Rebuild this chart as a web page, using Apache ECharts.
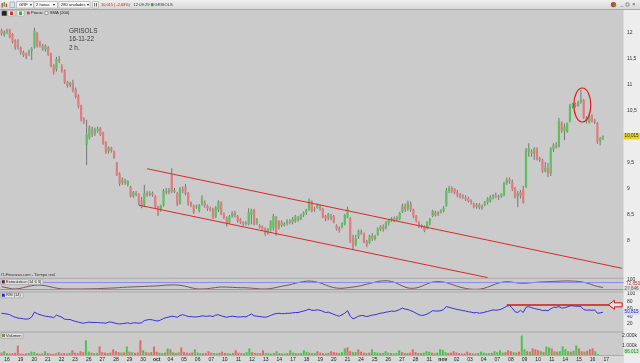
<!DOCTYPE html>
<html><head><meta charset="utf-8">
<script src="https://cdn.jsdelivr.net/npm/echarts/dist/echarts.min.js"></script>
<style>html,body{margin:0;padding:0;background:#cbcbcb}#c{width:640px;height:363px}</style>
</head><body><div id="c"></div>
<script>
// ---------- DATA ----------
const dayLabels = ['16','19','20','21','22','23','26','27','28','29','30','oct','04','05','06','07','10','11','12','13','14','17','18','19','20','21','24','25','26','27','28','31','nov','02','03','04','07','08','09','10','11','14','15','16','17'];
const preSlots = 2;          // last two 2h bars of 15 sep
const barsPerDay = 5;
// [open, close, low, high]
const candles = [
[12.05,11.98,11.95,12.08],[11.96,12.02,11.93,12.05],[12.02,12.04,11.98,12.08],[12.06,11.92,11.90,12.08],[11.98,11.83,11.80,12.00],
[11.86,11.72,11.68,11.88],[11.76,11.74,11.68,11.88],[11.72,11.62,11.58,11.74],[11.63,11.57,11.54,11.66],[11.60,11.55,11.50,11.62],
[11.60,11.66,11.56,11.68],[11.66,11.70,11.48,11.73],[11.72,12.04,11.70,12.10],[12.00,11.75,11.72,12.02],[11.82,11.76,11.72,11.85],
[11.76,11.70,11.66,11.79],[11.68,11.76,11.64,11.78],[11.72,11.58,11.56,11.75],[11.60,11.36,11.34,11.62],[11.38,11.24,11.20,11.40],
[11.30,11.50,11.26,11.54],[11.50,11.46,11.42,11.56],[11.36,11.26,11.24,11.40],[11.28,11.05,11.02,11.30],[11.06,10.98,10.95,11.08],
[10.99,11.04,10.96,11.06],[11.04,10.90,10.86,11.10],[10.92,10.77,10.74,10.95],[10.80,10.58,10.55,10.82],[10.60,10.34,10.30,10.62],
[10.36,10.29,10.25,10.38],[9.85,10.04,9.46,10.33],[9.98,10.19,9.95,10.22],[10.15,10.05,10.00,10.20],[10.06,10.14,10.02,10.18],
[10.12,10.16,10.08,10.20],[10.17,10.04,10.02,10.19],[10.08,9.88,9.85,10.10],[9.90,9.71,9.68,9.92],[9.72,9.80,9.68,9.82],
[9.79,9.74,9.70,9.81],[9.72,9.60,9.58,9.74],[9.50,9.27,9.25,9.52],[9.30,9.10,9.06,9.32],[9.12,9.18,9.08,9.22],
[9.16,9.12,9.08,9.20],[9.08,9.15,9.05,9.17],[9.04,8.86,8.84,9.06],[8.86,8.94,8.83,8.96],[8.93,8.89,8.86,8.96],
[8.90,8.75,8.69,8.92],[8.78,8.66,8.63,8.85],[8.70,8.92,8.66,9.08],[8.92,8.88,8.85,8.96],[8.89,8.93,8.86,8.96],
[8.92,8.88,8.85,8.95],[8.86,8.65,8.62,8.88],[8.66,8.52,8.48,8.68],[8.60,8.68,8.56,8.70],[8.68,8.97,8.66,9.00],
[8.96,8.93,8.90,9.02],[8.94,8.98,8.90,9.02],[9.27,8.95,8.92,9.40],[8.95,8.98,8.92,9.02],[8.92,8.70,8.67,8.94],
[8.72,9.00,8.70,9.04],[9.00,8.96,8.92,9.05],[9.04,8.90,8.88,9.10],[8.92,8.70,8.68,8.94],[8.74,8.68,8.65,8.76],
[8.68,8.55,8.52,8.70],[8.66,8.68,8.62,8.70],[8.58,8.69,8.55,8.71],[8.72,8.82,8.68,8.88],[8.74,8.68,8.64,8.78],
[8.68,8.62,8.58,8.70],[8.63,8.60,8.57,8.66],[8.62,8.45,8.42,8.64],[8.46,8.65,8.44,8.67],[8.60,8.76,8.56,8.78],
[8.74,8.52,8.50,8.76],[8.52,8.45,8.42,8.55],[8.45,8.32,8.28,8.47],[8.36,8.48,8.33,8.50],[8.48,8.54,8.45,8.57],
[8.54,8.48,8.45,8.58],[8.48,8.38,8.35,8.50],[8.42,8.36,8.33,8.44],[8.36,8.32,8.29,8.38],[8.33,8.36,8.30,8.38],
[8.32,8.55,8.30,8.63],[8.50,8.60,8.32,8.62],[8.60,8.32,8.30,8.62],[8.35,8.42,8.31,8.44],[8.30,8.26,8.24,8.32],
[8.28,8.22,8.20,8.30],[8.24,8.14,8.10,8.26],[8.16,8.22,8.12,8.25],[8.22,8.38,8.18,8.40],[8.24,8.48,8.20,8.52],
[8.46,8.14,8.10,8.48],[8.26,8.38,8.22,8.40],[8.36,8.30,8.27,8.40],[8.30,8.34,8.28,8.36],[8.34,8.38,8.30,8.42],
[8.38,8.36,8.32,8.42],[8.36,8.42,8.32,8.46],[8.38,8.48,8.35,8.50],[8.45,8.40,8.37,8.48],[8.42,8.50,8.40,8.52],
[8.50,8.55,8.46,8.57],[8.55,8.60,8.50,8.62],[8.60,8.78,8.58,8.82],[8.76,8.58,8.55,8.78],[8.60,8.62,8.56,8.66],
[8.64,8.68,8.62,8.72],[8.66,8.62,8.58,8.70],[8.62,8.46,8.44,8.64],[8.48,8.42,8.38,8.50],[8.44,8.52,8.40,8.54],
[8.48,8.44,8.40,8.52],[8.48,8.36,8.34,8.50],[8.30,8.22,8.20,8.32],[8.24,8.20,8.16,8.28],[8.26,8.34,8.24,8.36],
[8.32,8.50,8.30,8.52],[8.46,8.62,8.44,8.66],[8.44,7.98,7.96,8.46],[8.05,7.88,7.83,8.12],[7.92,8.05,7.90,8.12],
[8.08,8.20,8.04,8.22],[8.18,8.14,8.12,8.22],[8.14,7.98,7.96,8.16],[8.00,7.92,7.88,8.02],[7.96,8.10,7.94,8.12],
[8.10,8.04,8.00,8.15],[8.04,8.10,8.01,8.12],[8.12,8.24,8.10,8.26],[8.22,8.28,8.19,8.30],[8.28,8.22,8.18,8.32],
[8.25,8.36,8.22,8.38],[8.34,8.40,8.30,8.42],[8.40,8.44,8.37,8.46],[8.44,8.40,8.36,8.47],[8.40,8.46,8.38,8.48],
[8.42,8.54,8.40,8.56],[8.56,8.68,8.54,8.72],[8.68,8.60,8.56,8.72],[8.62,8.74,8.58,8.78],[8.72,8.60,8.56,8.76],
[8.60,8.47,8.44,8.62],[8.48,8.38,8.36,8.50],[8.36,8.28,8.25,8.38],[8.28,8.30,8.24,8.32],[8.28,8.20,8.17,8.30],
[8.24,8.36,8.22,8.38],[8.34,8.42,8.30,8.44],[8.48,8.58,8.46,8.60],[8.55,8.50,8.47,8.58],[8.51,8.55,8.48,8.57],
[8.56,8.58,8.53,8.61],[8.58,8.64,8.55,8.67],[8.68,8.98,8.66,9.02],[8.96,9.02,8.92,9.06],[9.02,8.96,8.92,9.05],
[9.00,8.93,8.90,9.02],[8.94,8.88,8.84,8.98],[8.90,8.85,8.82,8.92],[8.86,8.84,8.81,8.90],[8.84,8.80,8.77,8.88],
[8.82,8.76,8.74,8.85],[8.78,8.74,8.70,8.80],[8.72,8.66,8.63,8.74],[8.66,8.70,8.62,8.73],[8.70,8.64,8.61,8.73],
[8.64,8.68,8.60,8.70],[8.70,8.74,8.67,8.77],[8.74,8.82,8.70,8.84],[8.76,8.85,8.74,8.88],[8.84,8.88,8.80,8.90],
[8.88,8.84,8.82,8.93],[8.84,8.86,8.79,8.89],[8.86,8.90,8.83,8.92],[8.88,9.12,8.86,9.14],[9.12,9.18,9.08,9.22],
[9.18,9.14,9.10,9.22],[9.14,9.00,8.96,9.18],[9.02,8.84,8.82,9.04],[8.86,8.92,8.65,8.96],[8.94,8.86,8.82,8.98],
[8.98,8.74,8.72,9.06],[9.04,9.75,9.02,9.79],[9.72,9.79,9.62,9.88],[9.72,9.68,9.62,9.76],[9.68,9.78,9.56,9.80],
[9.78,9.58,9.55,9.80],[9.60,9.56,9.52,9.62],[9.56,9.33,9.31,9.58],[9.34,9.40,9.32,9.52],[9.40,9.30,9.23,9.50],
[9.30,9.78,9.25,9.80],[9.76,9.85,9.71,9.88],[9.84,9.80,9.78,9.90],[9.82,10.30,9.80,10.37],[10.27,10.12,10.08,10.30],
[10.12,10.20,9.94,10.26],[10.10,10.26,10.08,10.28],[10.30,10.60,10.28,10.64],[10.58,10.63,10.55,10.66],[10.63,10.60,10.57,10.66],
[10.60,10.67,10.58,10.70],[10.68,10.72,10.64,10.90],[10.71,10.37,10.35,10.73],[10.36,10.30,10.26,10.40],[10.28,10.38,10.26,10.42],
[10.40,10.30,10.28,10.44],[10.32,10.28,10.25,10.35],[10.27,9.90,9.87,10.29],[9.92,9.97,9.84,10.00],[9.97,10.015,9.94,10.03]
];
// volume in thousands of shares
const volume = [250,400,
200,150,180,220,1000, 150,120,160,200,350, 300,180,140,160,400, 200,150,130,180,300, 180,200,150,220,500,
250,200,400,300,1550, 350,250,200,220,900, 300,250,200,250,600, 400,300,250,280,900, 350,280,220,260,1550,
500,300,250,300,900, 350,250,200,260,700, 600,300,220,280,800, 300,250,200,260,600, 250,200,180,220,400,
250,200,180,220,350, 220,180,160,200,500, 250,200,180,300,700, 300,220,180,200,500, 220,200,160,200,400,
200,180,160,200,500, 250,200,180,220,500, 350,250,200,220,400, 250,200,180,220,400, 300,250,220,300,700,
800,400,300,300,600, 350,250,200,250,600, 300,250,200,220,400, 250,200,180,220,500, 300,220,200,250,600,
300,220,200,250,400, 350,250,200,250,600, 550,300,220,250,400, 250,200,160,180,350, 220,180,160,200,350,
250,200,180,220,400, 300,500,250,300,500, 400,300,250,350,2050, 600,400,350,700,600, 500,400,300,900,800,
700,400,350,400,900, 600,400,350,450,1000, 700,400,350,450,600, 700,400,86];
const rsi = [48,47,46,44,40,37,35,34,33,32,33,38,51,47,44,42,40,39,38,36,43,40,37,32,31,31,28,26,24,22,21,23,24,23,23,23,22,22,21,24,
24,22,20,19,20,21,22,20,22,22,21,22,28,30,31,30,28,27,30,34,36,38,40,39,37,42,44,42,39,39,38,38,39,41,40,40,41,39,43,44,
41,39,37,39,40,39,38,38,39,38,42,46,41,40,39,38,37,39,42,45,47,48,47,47,48,48,49,50,50,52,54,56,59,56,56,57,56,53,50,51,
48,45,42,40,44,48,55,40,33,36,40,42,41,39,41,43,44,46,48,49,51,52,54,53,55,58,62,59,58,55,52,48,44,42,43,46,50,55,54,54,
55,58,66,64,62,60,58,57,55,54,52,51,49,50,48,49,51,53,55,57,56,57,59,63,67,69,62,52,50,56,50,64,66,63,61,59,58,55,56,55,
60,64,64,66,62,63,65,68,68,67,67,66,58,56,57,56,57,48,49,50.8];
const stoch = [40,35,30,25,21,20,22,26,32,38,44,48,52,54,54,52,48,44,38,32,28,24,21,20,20,20,20,20,20,20,20,21,21,22,22,23,24,25,26,27,
28,29,30,32,34,35,36,37,38,39,40,41,42,43,44,45,46,47,49,51,53,54,55,55,54,52,48,43,37,31,26,22,20,20,21,23,26,29,32,35,
37,37,36,35,34,33,32,31,31,30,29,27,25,23,21,20,20,21,24,28,33,38,43,48,52,57,63,69,75,80,84,87,88,87,84,78,72,64,55,46,
38,32,28,26,26,28,31,34,37,40,44,49,55,61,67,73,79,84,88,90,91,89,85,78,68,57,46,36,29,26,26,29,35,44,54,64,73,80,83,84,
83,80,74,67,59,51,43,36,30,25,21,18,17,17,18,22,28,36,45,54,63,71,77,81,83,82,79,75,72,70,69,70,72,74,76,78,80,81,82,83,
84,85,86,87,88,89,89,89,88,87,85,82,78,72,65,57,49,42,37,33];
const priceTicks = [8, 8.5, 9, 9.5, 10, 10.5, 11, 11.5, 12];
// annotations in data coordinates [slot, value]
const trendUpper = [[53, 9.39], [226, 7.475]];
const trendLower = [[50, 8.69], [177, 7.296]];
const ellipseCenter = [211.5, 10.615];
const rsiLevel = [[184, 70.7], [226, 70.7]];
const title = ['GRISOLS', '16-11-22', '2 h.'];

// ---------- BUILD ----------
const slots = [], slotLabel = [];
for (let j = 0; j < preSlots; j++) { slots.push('15-' + j); slotLabel.push(''); }
dayLabels.forEach((d, k) => { for (let j = 0; j < barsPerDay; j++) { slots.push(k + '-' + d + '-' + j); slotLabel.push(j === 0 ? d : ''); } });

const candleData = candles.map((c, i) => [i, c[0], c[1], c[2], c[3]]);
const UP = '#5cc05c', DOWN = '#e27c7c';
const volData = volume.map((v, i) => ({ value: v, itemStyle: { color: candles[i][1] >= candles[i][0] ? '#4cc24c' : '#e06a6a' } }));

const FONT = 'Liberation Sans';
const GL = 0.135, GW = 623.365;
const chart = echarts.init(document.getElementById('c'), null, { renderer: 'canvas', width: 640, height: 363 });

const xAx = (g) => ({
  type: 'category', gridIndex: g, data: slots, boundaryGap: true,
  axisLine: { show: false }, axisTick: { show: false }, splitLine: { show: false },
  axisLabel: g === 3 ? {
    show: true, interval: (i) => slotLabel[i] !== '', margin: 2.5, fontSize: 5, fontFamily: FONT, color: '#222',
    formatter: (v, i) => { const t = slotLabel[i]; return (t === 'oct' || t === 'nov') ? '{b|' + t + '}' : t; },
    rich: { b: { fontWeight: 'bold', fontSize: 5, fontFamily: FONT, color: '#222' } }
  } : { show: false }
});
const lbl = (fmt) => ({ show: true, fontSize: 5, fontFamily: FONT, color: '#333', margin: 3.5, formatter: fmt });

chart.setOption({
  animation: false,
  backgroundColor: '#cbcbcb',
  grid: [
    { left: GL, width: GW, top: 7, height: 260 },
    { left: GL, width: GW, top: 279.7, height: 11.6 },
    { left: GL, width: GW, top: 294, height: 37 },
    { left: GL, width: GW, top: 335, height: 20 }
  ],
  xAxis: [xAx(0), xAx(1), xAx(2), xAx(3)],
  yAxis: [
    { type: 'value', gridIndex: 0, position: 'right', min: 7.5, max: 12.5, interval: 0.5, axisLine: { show: false }, axisTick: { show: false }, splitLine: { show: false },
      axisLabel: lbl(v => priceTicks.indexOf(v) >= 0 ? String(v).replace('.', ',') : '') },
    { type: 'value', gridIndex: 1, position: 'right', min: 0, max: 100, interval: 20, axisLine: { show: false }, axisTick: { show: false }, splitLine: { show: false },
      axisLabel: lbl(v => v === 100 ? '100' : '') },
    { type: 'value', gridIndex: 2, position: 'right', min: 0, max: 100, interval: 20, axisLine: { show: false }, axisTick: { show: false }, splitLine: { show: false },
      axisLabel: lbl(v => v > 0 ? String(v) : '') },
    { type: 'value', gridIndex: 3, position: 'right', min: 0, max: 2105, interval: 1000, axisLine: { show: false }, axisTick: { show: false }, splitLine: { show: false },
      axisLabel: lbl(v => (v === 1000 || v === 2000) ? (v / 1000) + '.000k' : '') }
  ],
  series: [
    { type: 'custom', xAxisIndex: 0, yAxisIndex: 0, data: candleData, encode: { x: 0, y: [1, 2, 3, 4] },
      renderItem: (params, api) => {
        const i = api.value(0), o = api.value(1), c = api.value(2), l = api.value(3), h = api.value(4);
        const pO = api.coord([i, o]), pC = api.coord([i, c]), pL = api.coord([i, l]), pH = api.coord([i, h]);
        const cx = pO[0];
        const top = Math.min(pO[1], pC[1]), bot = Math.max(pO[1], pC[1]);
        return { type: 'group', children: [
          { type: 'line', shape: { x1: cx, y1: pH[1], x2: cx, y2: pL[1] }, style: { stroke: '#6c6c6c', lineWidth: 0.9 } },
          { type: 'rect', shape: { x: cx - 1.1, y: top, width: 2.2, height: Math.max(bot - top, 0.8) }, style: { fill: c >= o ? UP : DOWN } }
        ] };
      } },
    { type: 'line', xAxisIndex: 1, yAxisIndex: 1, data: stoch, showSymbol: false, lineStyle: { color: '#765263', width: 1 },
      markLine: { silent: true, symbol: 'none', label: { show: false }, lineStyle: { color: '#8c8cf2', type: 'solid', width: 1 }, data: [{ yAxis: 80 }, { yAxis: 20 }] } },
    { type: 'line', xAxisIndex: 2, yAxisIndex: 2, data: rsi, showSymbol: false, lineStyle: { color: '#3030e6', width: 1 },
      markLine: { silent: true, symbol: 'none', label: { show: false }, lineStyle: { color: '#d01818', type: 'solid', width: 1.6 },
        data: [[{ coord: rsiLevel[0] }, { coord: rsiLevel[1] }]] } },
    { type: 'bar', xAxisIndex: 3, yAxisIndex: 3, data: volData, barWidth: 2 }
  ]
});

// ---------- GRAPHICS ----------
const px = (g, pt) => chart.convertToPixel({ gridIndex: g }, pt);
const mid = (g, s, v) => { const a = px(g, [Math.floor(s), v]), b = px(g, [Math.floor(s) + 1, v]); const f = s - Math.floor(s); return [a[0] + (b[0] - a[0]) * f, a[1]]; };
const T = (x, y, text, o = {}) => ({ type: 'text', x, y, silent: true, z: 50, style: Object.assign({ text, fontSize: 5, fontFamily: FONT, fill: '#222', textVerticalAlign: 'middle' }, o) });
const R = (x, y, w, h, fill, stroke, z = 40) => ({ type: 'rect', silent: true, z, shape: { x, y, width: w, height: h }, style: { fill, stroke: stroke || null, lineWidth: stroke ? 0.6 : 0 } });
const L = (x1, y1, x2, y2, stroke, w = 1, z = 30) => ({ type: 'line', silent: true, z, shape: { x1, y1, x2, y2 }, style: { stroke, lineWidth: w } });
const TB = 4.1; // toolbar font size

const g = [];
// right axis strip
g.push(R(623.5, 9.5, 16.5, 354, '#ededed', null, -5));
// date row
g.push(R(0, 355.5, 623.5, 7.5, '#d8d8d8', null, -5));
// panel separators
[278.3, 291.9, 332, 355.5].forEach(y => g.push(L(0, y, 623.5, y, '#a2a2a2', 0.8, 5)));
// toolbar row 1
g.push({ type: 'rect', silent: true, z: 40, shape: { x: 0, y: 0, width: 640, height: 9.5 }, style: { fill: new echarts.graphic.LinearGradient(0, 0, 0, 1, [{ offset: 0, color: '#efefef' }, { offset: 1, color: '#d6d6d6' }]) } });
g.push(L(0, 9.5, 640, 9.5, '#9c9c9c', 0.8, 41));
g.push(R(1.5, 3, 1.4, 4.5, '#d04848'), R(3.6, 2, 1.4, 4.5, '#40b040'), R(5.7, 3.5, 1.4, 3.5, '#d04848'));
g.push(R(10, 2, 4.5, 5.5, '#dde4ee', '#8a98aa'));
g.push(R(16.5, 1.5, 17, 6.5, '#f6f6f6', '#a8a8a8'), T(19, 4.8, 'GRF', { fontSize: TB }), T(29.8, 4.8, '▾', { fontSize: 3.6 }));
g.push(R(34, 1.5, 23.5, 6.5, '#f6f6f6', '#a8a8a8'), T(36, 4.8, '2 horas', { fontSize: TB }), T(53.2, 4.8, '▾', { fontSize: 3.6 }));
g.push(R(59, 1.5, 31, 6.5, '#f6f6f6', '#a8a8a8'), T(61, 4.8, '280 unidades', { fontSize: TB }), T(86.5, 4.8, '▾', { fontSize: 3.6 }));
g.push(R(92.5, 1.5, 6, 6.5, '#f6f6f6', '#a8a8a8'), R(94.3, 3, 0.8, 3.5, '#444'), R(96, 3, 0.8, 3.5, '#444'));
g.push(T(101, 4.8, '10,015 ( -2,63%)', { fill: '#d01010', fontSize: 3.9 }));
g.push(T(133.5, 4.8, '12:09:29', { fill: '#333', fontSize: TB }));
g.push(R(151, 3.2, 2.6, 3, '#20b020'), T(154.5, 4.8, 'GRISOLS', { fill: '#333', fontSize: TB }));
g.push({ type: 'circle', silent: true, z: 42, shape: { cx: 613.5, cy: 4.6, r: 2.6 }, style: { fill: '#d83030' } });
g.push({ type: 'circle', silent: true, z: 43, shape: { cx: 614.5, cy: 5.2, r: 1.6 }, style: { fill: '#30b030' } });
g.push(T(620.5, 4.2, '_', { fill: '#555' }), R(626, 3, 3, 3, null, '#666'), T(632, 4.8, '×', { fill: '#555', fontSize: 6 }));
// toolbar row 2
g.push(R(2, 11, 4.5, 4.5, '#222', '#444'));
g.push(R(8, 10.5, 7, 5.5, '#eeeeee', '#aaaaaa'), R(10, 11.5, 3, 3.5, '#d83030'));
g.push(R(17, 10.5, 7, 5.5, '#eeeeee', '#aaaaaa'), R(19, 11.5, 3, 3.5, '#30b030'));
g.push(R(27, 11.6, 2.6, 2.8, '#d84040'), T(31, 13.1, 'Precio', { fontSize: TB }));
g.push(R(45, 11.5, 3, 3, '#f5f5f5', '#777'), T(49.8, 13.1, 'SMA (200)', { fontSize: TB }));
// title text
g.push(T(69, 31, title[0], { fontSize: 6.4, fill: '#3a3a3a' }), T(69, 39.6, title[1], { fontSize: 6.4, fill: '#3a3a3a' }), T(69, 48.2, title[2], { fontSize: 6.4, fill: '#3a3a3a' }));
// panel labels
g.push(T(1, 275.3, 'IT-Finanzas.com - Tiempo real', { fontSize: 4, fill: '#333' }));
g.push(R(1, 279.2, 42, 5.2, '#e4e4e4', '#9a9a9a'), R(2, 280.3, 2.8, 3, '#222'), R(3.4, 280.3, 1.4, 3, '#c03030'), T(6, 281.9, 'Estocástico (14 6 3)', { fontSize: 4 }));
g.push(R(1, 292.6, 22, 5.2, '#e4e4e4', '#9a9a9a'), R(2, 293.7, 2.8, 3, '#2020e0'), T(6, 295.3, 'RSI (14)', { fontSize: 4 }));
g.push(R(1, 333, 22, 5.2, '#e4e4e4', '#9a9a9a'), R(2, 334.1, 1.4, 3, '#30b030'), R(3.4, 334.1, 1.4, 3, '#d04040'), T(6, 335.7, 'Volumen', { fontSize: 4 }));

// data-anchored annotations
const u0 = px(0, trendUpper[0]), u1 = px(0, trendUpper[1]);
g.push(L(u0[0], u0[1], u1[0], u1[1], '#e02828', 1, 20));
const l0 = px(0, trendLower[0]), l1 = px(0, trendLower[1]);
g.push(L(l0[0], l0[1], l1[0], l1[1], '#e02828', 1, 20));
const ec = mid(0, ellipseCenter[0], ellipseCenter[1]);
g.push({ type: 'ellipse', silent: true, z: 25, shape: { cx: ec[0], cy: ec[1], rx: 8.5, ry: 17 }, style: { fill: null, stroke: '#e01818', lineWidth: 1.2 } });
// arrow on RSI level
const a0 = px(2, [221, rsiLevel[0][1]]), a1 = px(2, rsiLevel[1]);
const ax = a0[0], ay = a0[1];
g.push({ type: 'polygon', silent: true, z: 26, shape: { points: [[ax, ay], [ax + 6, ay - 4.5], [ax + 6, ay - 2], [a1[0], ay - 2], [a1[0], ay + 2], [ax + 6, ay + 2], [ax + 6, ay + 4.5]] }, style: { fill: '#f4dede', stroke: '#d01818', lineWidth: 1 } });
// value boxes on right axis
const last = candles[candles.length - 1][1];
const py = px(0, [0, last])[1];
g.push(R(623.8, py - 3.2, 16, 6.4, '#e8d21e', null, 45), T(624.6, py, String(last).replace('.', ','), { fontSize: 4.6, fill: '#333' }));
const ry = px(2, [0, rsi[rsi.length - 1]])[1];
g.push(R(623.8, ry - 3, 16, 6, '#dcdcf4', null, 45), T(624.6, ry, '50,815', { fontSize: 4.6, fill: '#2020d0' }));
g.push(T(626, 284.2, '72,853', { fontSize: 4.6, fill: '#d02020' }));
g.push(R(623.8, 286.3, 16, 5.2, '#dddddd', null, 45), T(624.6, 288.9, '27,646', { fontSize: 4.6, fill: '#555' }));
g.push(R(623.8, 348.5, 16, 5.6, '#d2ecd2', null, 45), T(624.6, 351.3, '86.013', { fontSize: 4.6, fill: '#208020' }));

chart.setOption({ graphic: { elements: g } });
</script>
</body></html>
